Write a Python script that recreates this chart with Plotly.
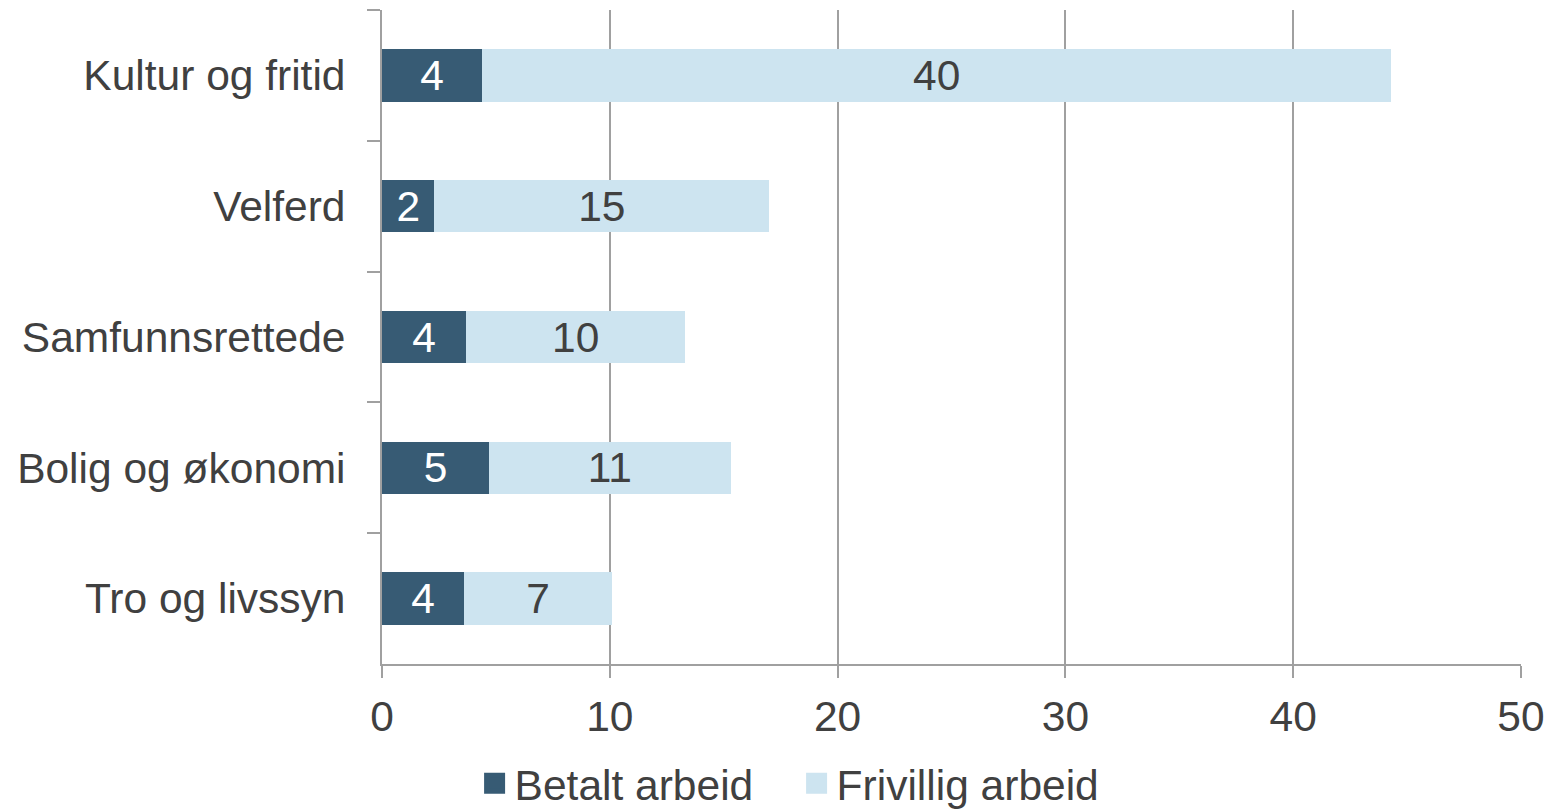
import plotly.graph_objects as go

categories = ["Kultur og fritid", "Velferd", "Samfunnsrettede", "Bolig og økonomi", "Tro og livssyn"]
betalt = [4.4, 2.3, 3.7, 4.7, 3.6]
frivillig = [39.9, 14.7, 9.6, 10.6, 6.5]
x_ticks = [0, 10, 20, 30, 40, 50]
series_names = ["Betalt arbeid", "Frivillig arbeid"]

DARK = "#375B74"
LIGHT = "#CDE4F0"
TEXT = "#404040"
AXIS = "#A0A0A0"
FONT = "Liberation Sans, Arial, sans-serif"
FS = 42.5

fig = go.Figure()
fig.add_trace(go.Bar(
    y=categories, x=betalt, orientation="h", name=series_names[0],
    marker=dict(color=DARK, line=dict(width=0)),
    texttemplate="%{x:.0f}", textposition="inside", insidetextanchor="middle",
    constraintext="none", textangle=0,
    textfont=dict(color="white", size=FS, family=FONT), showlegend=False,
))
fig.add_trace(go.Bar(
    y=categories, x=frivillig, orientation="h", name=series_names[1],
    marker=dict(color=LIGHT, line=dict(width=0)),
    texttemplate="%{x:.0f}", textposition="inside", insidetextanchor="middle",
    constraintext="none", textangle=0,
    textfont=dict(color=TEXT, size=FS, family=FONT), showlegend=False,
))
# legend entries with larger square symbols
for nm, col in zip(series_names, [DARK, LIGHT]):
    fig.add_trace(go.Scatter(
        x=[None], y=[None], mode="markers", name=nm,
        marker=dict(symbol="square", size=16, color=col, line=dict(color=col, width=8)),
    ))

fig.update_layout(
    width=1551, height=801,
    margin=dict(l=374, r=38, t=2, b=145, autoexpand=False),
    barmode="stack", bargap=0.6,
    plot_bgcolor="white", paper_bgcolor="white",
    font=dict(family=FONT, size=FS, color=TEXT),
    legend=dict(orientation="h", x=0.364, xanchor="center", y=-0.183, yanchor="middle",
                font=dict(size=FS, color=TEXT), bgcolor="rgba(0,0,0,0)",
                itemsizing="trace", traceorder="normal", entrywidth=277),
    xaxis=dict(range=[0, 50], tickvals=x_ticks, showgrid=True, gridcolor=AXIS, gridwidth=2,
               showline=True, linecolor=AXIS, linewidth=2, ticks="outside", ticklen=12,
               tickwidth=2, tickcolor=AXIS, zeroline=False, tickfont=dict(size=FS, color=TEXT),
               automargin=False, ticklabelstandoff=2),
    yaxis=dict(autorange="reversed", showline=True, linecolor=AXIS, linewidth=2,
               ticks="outside", tickson="boundaries", ticklen=13, tickwidth=2, tickcolor=AXIS,
               showgrid=False, tickfont=dict(size=FS, color=TEXT), ticklabelstandoff=26,
               automargin=False),
)

fig.write_html("out.html")
